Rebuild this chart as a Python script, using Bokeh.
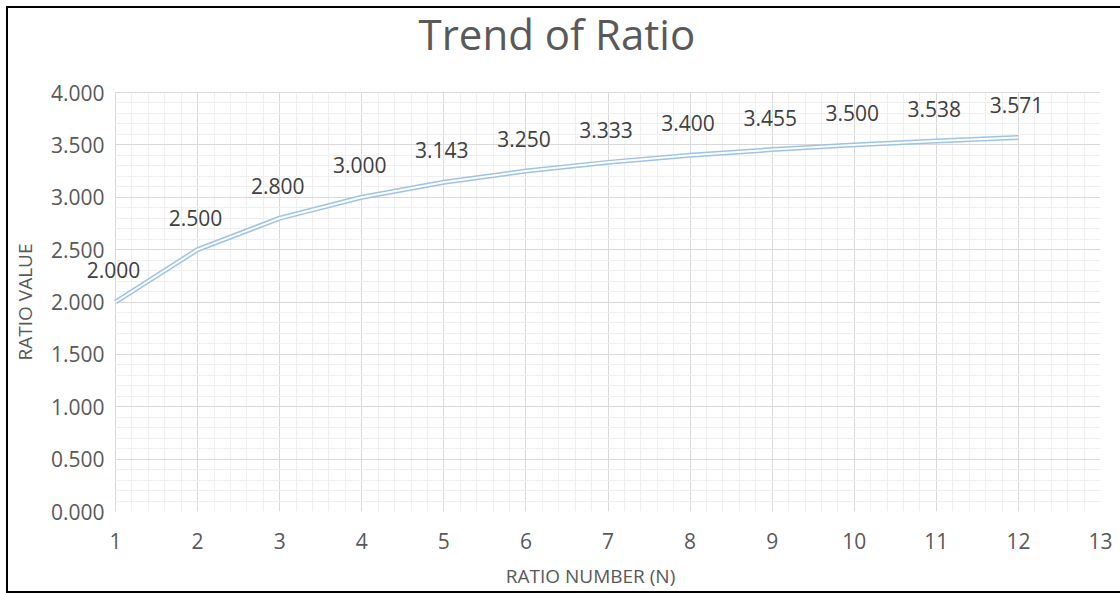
from bokeh.plotting import figure
from bokeh.models import (ColumnDataSource, SingleIntervalTicker, FixedTicker,
                          NumeralTickFormatter, Range1d, Label)
from bokeh.embed import file_html
from bokeh.resources import INLINE

# ---- data ----
ratio_number = [1, 2, 3, 4, 5, 6, 7, 8, 9, 10, 11, 12]
ratio_value = [2.000, 2.500, 2.800, 3.000, 3.143, 3.250, 3.333, 3.400, 3.455, 3.500, 3.538, 3.571]
value_labels = ["2.000", "2.500", "2.800", "3.000", "3.143", "3.250", "3.333", "3.400",
                "3.455", "3.500", "3.538", "3.571"]
y_ticks = [0.0, 0.5, 1.0, 1.5, 2.0, 2.5, 3.0, 3.5, 4.0]
y_minor_ticks = [i / 10 for i in range(41)]

title_text = "Trend of Ratio"
x_title = "RATIO NUMBER (N)"
y_title = "RATIO VALUE"

X_MIN, X_MAX = 1, 13
Y_MIN, Y_MAX = 0, 4

FONT = "Open Sans"
GREY = "#595959"

# layout: plot area 985 x 419 px; the frame is extended 35 px to the left and 84 px
# upwards (hidden with white) so that the title and first data label are not clipped.
PX_PER_X = 985 / (X_MAX - X_MIN)
PX_PER_Y = 419 / (Y_MAX - Y_MIN)
EXTRA_LEFT, EXTRA_TOP = 35, 84
x_start = X_MIN - EXTRA_LEFT / PX_PER_X
y_end = Y_MAX + EXTRA_TOP / PX_PER_Y
FW, FH = 985 + EXTRA_LEFT, 419 + EXTRA_TOP

src = ColumnDataSource(dict(x=ratio_number, y=ratio_value, lab=value_labels))

p = figure(frame_width=FW, frame_height=FH, output_backend="svg", toolbar_location=None,
           x_range=Range1d(x_start, X_MAX), y_range=Range1d(Y_MIN, y_end),
           min_border_left=72, min_border_right=20, min_border_top=0, min_border_bottom=77)
p.styles = {"border-left": "2px solid black", "border-top": "2px solid black",
            "border-bottom": "2px solid black", "margin": "6px 0 0 6px"}
p.outline_line_color = None
p.background_fill_color = "white"
p.border_fill_color = "white"

# axes
p.xaxis.ticker = SingleIntervalTicker(interval=1, num_minor_ticks=5)
p.yaxis.ticker = FixedTicker(ticks=y_ticks, minor_ticks=y_minor_ticks)
p.yaxis.bounds = (Y_MIN, Y_MAX)
p.yaxis.formatter = NumeralTickFormatter(format="0.000")
for ax in (p.xaxis, p.yaxis):
    ax.major_tick_line_color = None
    ax.minor_tick_line_color = None
    ax.axis_line_color = None
    ax.major_label_text_font = FONT
    ax.major_label_text_font_size = "21px"
    ax.major_label_text_color = GREY
    ax.axis_label_text_font = FONT
    ax.axis_label_text_font_size = "19px"
    ax.axis_label_text_font_style = "normal"
    ax.axis_label_text_color = GREY
p.xaxis.major_label_standoff = 15
p.yaxis.major_label_standoff = -30
p.xaxis.axis_label = x_title
# trailing no-break spaces shift the (centred) rotated title down to the plot-area centre
p.yaxis.axis_label = y_title + "\u00a0" * 17
p.xaxis.axis_label_standoff = 11
p.yaxis.axis_label_standoff = 10

# grid
for g in (p.xgrid, p.ygrid):
    g.grid_line_color = "#d9d9d9"
    g.minor_grid_line_color = "#efefef"
    g.grid_line_width = 1

# hide the grid in the extra strips (left of x=1, above y=4)
p.quad(left=x_start - 1, right=X_MIN - 0.5 / PX_PER_X, bottom=Y_MIN - 1, top=y_end + 1,
       fill_color="white", line_color=None)
p.quad(left=x_start - 1, right=X_MAX + 1, bottom=Y_MAX + 0.6 / PX_PER_Y, top=y_end + 1,
       fill_color="white", line_color=None)

# title
p.add_layout(Label(x=418 - 80, y=FH - 25, x_units="screen", y_units="screen",
                   text=title_text, text_font=FONT, text_font_size="42px",
                   text_color=GREY, text_align="left", text_baseline="middle"))

# double line
p.line("x", "y", source=src, line_color="#9dc3e6", line_width=5)
p.line("x", "y", source=src, line_color="white", line_width=2)

# data labels
for xv, yv, lab in zip(ratio_number, ratio_value, value_labels):
    p.add_layout(Label(x=xv, y=yv, text=lab, text_font=FONT, text_font_size="21px",
                       text_color="#404040", text_align="center", text_baseline="middle",
                       x_offset=-2, y_offset=32))

open("out.html", "w").write(file_html(p, INLINE))
